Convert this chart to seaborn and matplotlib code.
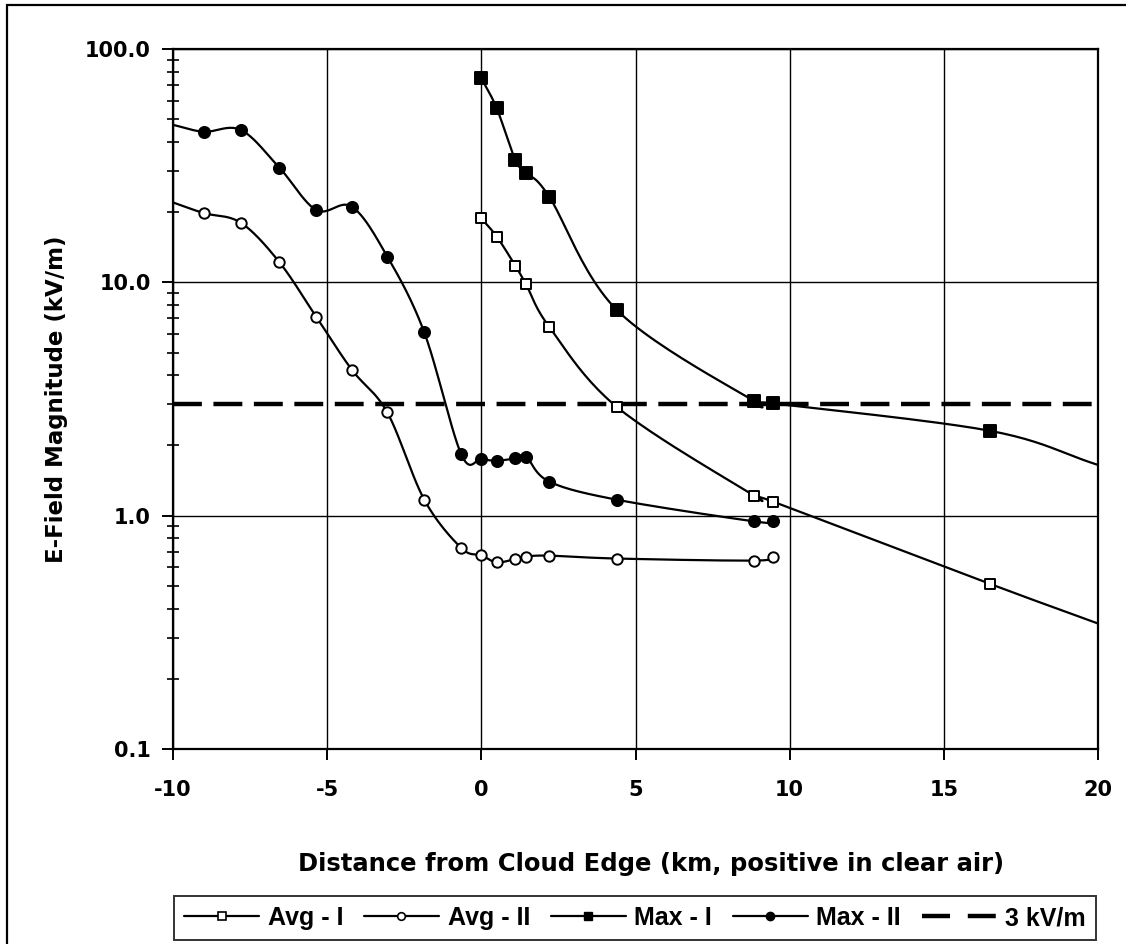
import numpy as np
import pandas as pd
import matplotlib
matplotlib.use("Agg")
import matplotlib.pyplot as plt
import seaborn as sns
from matplotlib.lines import Line2D
from matplotlib.patches import Rectangle
from matplotlib.ticker import FixedLocator, FuncFormatter, NullFormatter

# ---------------- data ----------------
avg1_x = [0, 0.5, 1.1, 1.45, 2.2, 4.4, 8.85, 9.45, 16.5]
avg1_y = [18.8, 15.7, 11.8, 9.8, 6.45, 2.92, 1.22, 1.15, 0.51]
avg1_end = (20.0, 0.345)

max1_x = [0, 0.5, 1.1, 1.45, 2.2, 4.4, 8.85, 9.45, 16.5]
max1_y = [75.0, 55.7, 33.5, 29.5, 23.3, 7.6, 3.1, 3.03, 2.31]
max1_end = (20.0, 1.65)

avg2_x = [-9.0, -7.8, -6.55, -5.35, -4.2, -3.05, -1.85, -0.65, 0, 0.5, 1.1, 1.45, 2.2, 4.4, 8.85, 9.45]
avg2_y = [19.8, 18.0, 12.2, 7.1, 4.22, 2.77, 1.17, 0.727, 0.676, 0.631, 0.652, 0.668, 0.674, 0.655, 0.642, 0.668]
avg2_start = (-10.0, 22.0)

max2_x = [-9.0, -7.8, -6.55, -5.35, -4.2, -3.05, -1.85, -0.65, 0, 0.5, 1.1, 1.45, 2.2, 4.4, 8.85, 9.45]
max2_y = [44.2, 45.0, 31.0, 20.4, 21.1, 12.9, 6.1, 1.83, 1.75, 1.72, 1.76, 1.79, 1.40, 1.17, 0.945, 0.945]
max2_start = (-10.0, 47.3)

threshold = 3.0
series_names = ["Avg - I", "Avg - II", "Max - I", "Max - II", "3 kV/m"]
x_ticks = [-10, -5, 0, 5, 10, 15, 20]
y_ticks = [0.1, 1.0, 10.0, 100.0]


def smooth(xs, ys, n=24):
    """Catmull-Rom curve through the points in (x, log10 y) space (Excel-like smoothing)."""
    P = np.column_stack([np.asarray(xs, float), np.log10(np.asarray(ys, float))])
    P = np.vstack([2 * P[0] - P[1], P, 2 * P[-1] - P[-2]])
    out = []
    t = np.linspace(0, 1, n, endpoint=False)[:, None]
    for i in range(1, len(P) - 2):
        p0, p1, p2, p3 = P[i - 1], P[i], P[i + 1], P[i + 2]
        seg = 0.5 * ((2 * p1) + (-p0 + p2) * t + (2 * p0 - 5 * p1 + 4 * p2 - p3) * t ** 2
                     + (-p0 + 3 * p1 - 3 * p2 + p3) * t ** 3)
        out.append(seg)
    out.append(P[-2][None, :])
    S = np.vstack(out)
    return S[:, 0], 10 ** S[:, 1]


sns.set_style("white")
plt.rcParams["font.family"] = ["DejaVu Sans"]
plt.rcParams.update({"text.color": "black", "axes.labelcolor": "black",
                     "xtick.color": "black", "ytick.color": "black"})

W, H = 1126, 944
fig = plt.figure(figsize=(W / 100, H / 100), dpi=100)
ax = fig.add_axes([173 / W, 1 - 749 / H, (1098 - 173) / W, (749 - 49) / H])

curves = [
    ("Avg - I", list(avg1_x) + [avg1_end[0]], list(avg1_y) + [avg1_end[1]]),
    ("Avg - II", [avg2_start[0]] + list(avg2_x), [avg2_start[1]] + list(avg2_y)),
    ("Max - I", list(max1_x) + [max1_end[0]], list(max1_y) + [max1_end[1]]),
    ("Max - II", [max2_start[0]] + list(max2_x), [max2_start[1]] + list(max2_y)),
]
for name, xs, ys in curves:
    sx, sy = smooth(xs, ys)
    df = pd.DataFrame({"x": sx, "y": sy})
    sns.lineplot(data=df, x="x", y="y", ax=ax, color="black", lw=1.6, sort=False,
                 estimator=None, clip_on=True, zorder=3)

ax.axhline(threshold, color="black", lw=3.2, dashes=(6.5, 2.6), zorder=2)

markers = [
    (avg1_x, avg1_y, "s", "white", 7.5),
    (avg2_x, avg2_y, "o", "white", 7.5),
    (max1_x, max1_y, "s", "black", 8.0),
    (max2_x, max2_y, "o", "black", 8.0),
]
for xs, ys, m, fc, ms in markers:
    df = pd.DataFrame({"x": xs, "y": ys})
    sns.scatterplot(data=df, x="x", y="y", ax=ax, marker=m, s=ms ** 2, color=fc,
                    edgecolor="black", linewidth=1.4, zorder=4)

ax.set_yscale("log")
ax.set_xlim(-10, 20)
ax.set_ylim(0.1, 100)
ax.set_xticks(x_ticks)
ax.set_xticklabels([str(v) for v in x_ticks])
ax.yaxis.set_major_locator(FixedLocator(y_ticks))
ax.yaxis.set_major_formatter(FuncFormatter(lambda v, p: f"{v:.1f}"))
minor = [m * d for d in (0.1, 1, 10) for m in range(2, 10)]
ax.yaxis.set_minor_locator(FixedLocator(minor))
ax.yaxis.set_minor_formatter(NullFormatter())
ax.grid(True, which="major", color="black", lw=1.0)
ax.set_axisbelow(True)
for sp in ax.spines.values():
    sp.set_color("black")
    sp.set_linewidth(1.6)
ax.tick_params(axis="both", which="major", direction="out", length=8, width=1.4,
               color="black", labelcolor="black", labelsize=15, pad=8)
ax.tick_params(axis="y", which="minor", direction="inout", length=9, width=1.2, color="black", left=True)
ax.tick_params(axis="y", which="major", left=True)
ax.tick_params(axis="x", which="major", bottom=True, pad=14)
for lab in ax.get_xticklabels() + ax.get_yticklabels():
    lab.set_fontweight("bold")

ax.set_xlabel("Distance from Cloud Edge (km, positive in clear air)", fontsize=17.5,
              fontweight="bold", labelpad=38, family=["DejaVu Sans"], color="black")
ax.xaxis.label.set_x(0.517)
ax.set_ylabel("E-Field Magnitude (kV/m)", fontsize=16.5, fontweight="bold", labelpad=12,
              family=["DejaVu Sans"], color="black")

handles = [
    Line2D([], [], color="black", lw=1.6, marker="s", ms=6, mfc="white", mec="black", mew=1.2),
    Line2D([], [], color="black", lw=1.6, marker="o", ms=5.5, mfc="white", mec="black", mew=1.2),
    Line2D([], [], color="black", lw=1.6, marker="s", ms=6, mfc="black", mec="black"),
    Line2D([], [], color="black", lw=1.6, marker="o", ms=6, mfc="black", mec="black"),
    Line2D([], [], color="black", lw=3.2, dashes=(6.3, 4.0)),
]
leg = fig.legend(handles, series_names, loc="lower left", ncol=5, mode="expand",
                 bbox_to_anchor=(174 / W, 1 - 940 / H, (1096 - 174) / W, (940 - 893) / H),
                 borderaxespad=0, frameon=True, fancybox=False, handlelength=3.0,
                 handletextpad=0.35, columnspacing=0.3, borderpad=0.4,
                 prop={"family": ["Liberation Sans", "DejaVu Sans"], "weight": "bold", "size": 18})
leg.get_frame().set_edgecolor("black")
leg.get_frame().set_linewidth(1.4)
for t in leg.get_texts():
    t.set_color("black")

fig.patches.append(Rectangle((7 / W, -0.01), 1.02, 1 - 5 / H + 0.01, transform=fig.transFigure,
                             fill=False, edgecolor="black", lw=1.6))

fig.savefig("out.png", dpi=100, facecolor="white")
